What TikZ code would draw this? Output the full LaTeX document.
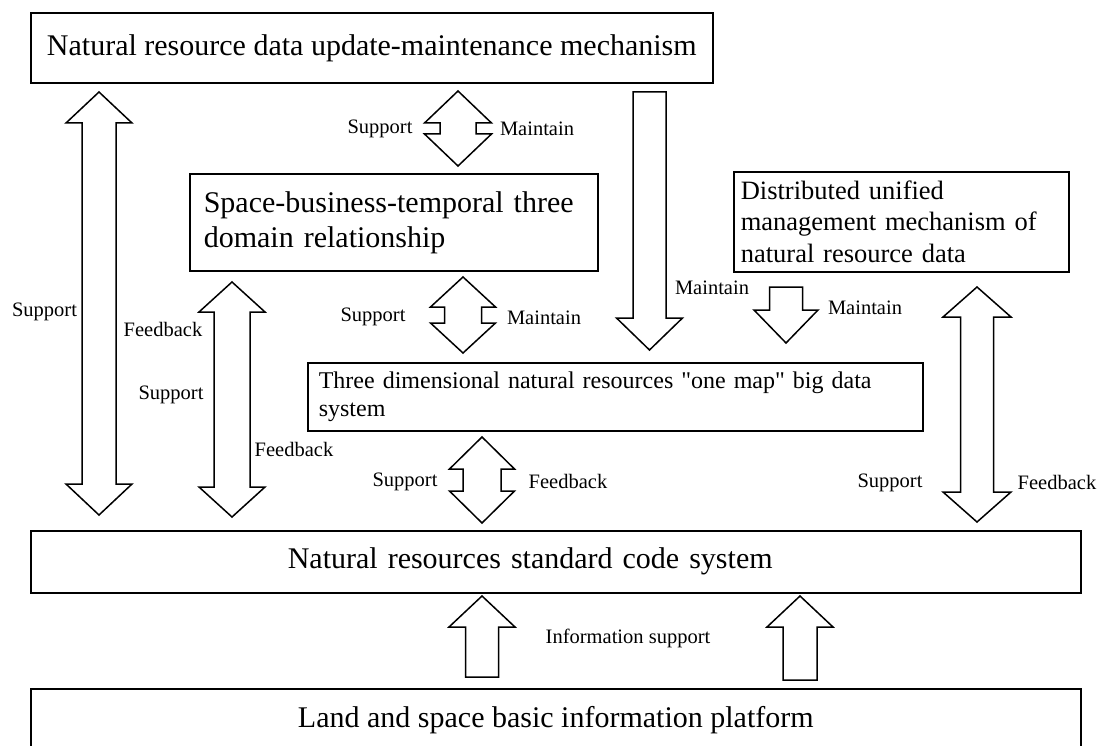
\documentclass[tikz,border=0pt]{standalone}
\usepackage{fontspec}
\setmainfont{Liberation Serif}
\usetikzlibrary{calc}
\tikzset{
  box/.style={draw, line width=1.6pt, inner sep=0pt, font=\fontsize{30}{35}\selectfont},
  lbl/.style={inner sep=0pt, font=\fontsize{20.5}{24}\selectfont},
  blockarrow/.style={draw, line width=1.5pt, fill=white},
}
% #1,#2 tips, #3 shaft half width, #4 head half width, #5 head length
\newcommand\NRdoublearrow[5]{
  \draw[blockarrow] let \p1=(#1), \p2=(#2), \p3=($(#1)!#5!(#2)$), \p4=($(#2)!#5!(#1)$) in
    (\x1,\y1) -- (\x1+#4,\y3) -- (\x1+#3,\y3) -- (\x1+#3,\y4) -- (\x1+#4,\y4)
    -- (\x2,\y2) -- (\x1-#4,\y4) -- (\x1-#3,\y4) -- (\x1-#3,\y3) -- (\x1-#4,\y3) -- cycle;
}
% #1 tail, #2 tip
\newcommand\NRsinglearrow[5]{
  \draw[blockarrow] let \p1=(#1), \p2=(#2), \p3=($(#2)!#5!(#1)$) in
    (\x1-#3,\y1) -- (\x1-#3,\y3) -- (\x1-#4,\y3) -- (\x2,\y2)
    -- (\x1+#4,\y3) -- (\x1+#3,\y3) -- (\x1+#3,\y1) -- cycle;
}

\begin{document}
\begin{tikzpicture}[x=1pt, y=-1pt]
\useasboundingbox (0,0) rectangle (1099,746);
\clip (0,0) rectangle (1099,746);

\node[box, anchor=north west, minimum width=682pt, minimum height=70pt] (upd) at (30,12)
  {Natural resource data update-maintenance mechanism};
\node[box, anchor=north west, text width=380pt, inner xsep=14pt, minimum height=97pt, align=left] (sbt) at (189,173)
  {Space-business-temporal three\\domain relationship};
\node[box, anchor=north west, text width=321pt, inner xsep=7pt, minimum height=100pt, align=left,
  font=\fontsize{26.5}{31.5}\selectfont] (dum) at (733,171)
  {Distributed unified\\management mechanism of\\natural resource data};
\node[box, anchor=north west, text width=593pt, inner xsep=11pt, minimum height=68pt, align=left,
  font=\fontsize{24}{28}\selectfont] (map) at (307,362)
  {Three dimensional natural resources \textquotedbl one map\textquotedbl{} big data\\system};
\node[box, anchor=north west, text width=536pt, inner xsep=257pt, minimum height=62pt, align=left] (std) at (30,530)
  {Natural resources standard code system};
\node[box, anchor=north west, minimum width=1050pt, minimum height=62pt] (plat) at (30,688)
  {Land and space basic information platform};

\coordinate (lft-t) at (99,92);    \coordinate (lft-b) at (99,515);
\coordinate (fb-t) at (232,282);   \coordinate (fb-b) at (232,517);
\coordinate (dmA-t) at (458,91);   \coordinate (dmA-b) at (458,166);
\coordinate (dmB-t) at (463,277);  \coordinate (dmB-b) at (463,353);
\coordinate (dmC-t) at (482,437);  \coordinate (dmC-b) at (482,523);
\coordinate (rgt-t) at (977,287);  \coordinate (rgt-b) at (977,522);
\coordinate (dnA-t) at (649.5,92); \coordinate (dnA-b) at (649.5,350);
\coordinate (dnB-t) at (786,287);  \coordinate (dnB-b) at (786,343);
\coordinate (upA-b) at (482,677);  \coordinate (upA-t) at (482,596);
\coordinate (upB-b) at (800,680);  \coordinate (upB-t) at (800,596);

\NRdoublearrow{lft-t}{lft-b}{17pt}{33pt}{31pt}
\NRdoublearrow{fb-t}{fb-b}{18pt}{33pt}{30pt}
\NRdoublearrow{dmA-t}{dmA-b}{18pt}{33.5pt}{32pt}
\NRdoublearrow{dmB-t}{dmB-b}{18.5pt}{32.5pt}{30pt}
\NRdoublearrow{dmC-t}{dmC-b}{19pt}{32.5pt}{32pt}
\NRdoublearrow{rgt-t}{rgt-b}{16.5pt}{34pt}{30pt}
\NRsinglearrow{dnA-t}{dnA-b}{16.5pt}{33pt}{32pt}
\NRsinglearrow{dnB-t}{dnB-b}{16.5pt}{32pt}{33pt}
\NRsinglearrow{upA-b}{upA-t}{16.5pt}{33pt}{31pt}
\NRsinglearrow{upB-b}{upB-t}{17pt}{33pt}{31pt}

\foreach \name/\x/\y/\txt in {
  supL/44.5/312/Support, fbL/163/329/Feedback, supM/171/395/Support, fbM/294/449/Feedback,
  supA/380/129/Support, mntA/537/129/Maintain, supB/373/317/Support, mntB/544/318/Maintain,
  supC/405/482/Support, fbC/568/481/Feedback, mntD/712/288/Maintain, mntE/865/308/Maintain,
  supR/890/483/Support, fbR/1057/482/Feedback, info/628/638/Information support}
  \node[lbl] (\name) at (\x,\y) {\txt};
\end{tikzpicture}
\end{document}
